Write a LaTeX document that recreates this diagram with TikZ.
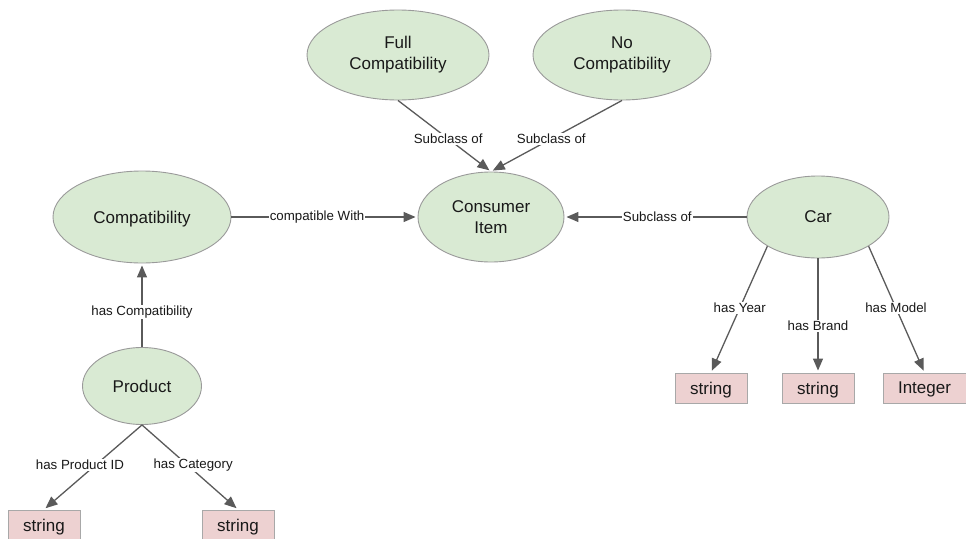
\documentclass[tikz,border=0pt]{standalone}
\usepackage{fontspec}
\setmainfont{Liberation Sans}
\usetikzlibrary{shapes.geometric,arrows.meta}
\definecolor{classfill}{HTML}{D9EAD3}
\definecolor{classline}{HTML}{9A9A9A}
\definecolor{typefill}{HTML}{EDD1D1}
\definecolor{typeline}{HTML}{A8A8A8}
\definecolor{edgecol}{HTML}{5A5A5A}
\tikzset{
  cls/.style={ellipse, draw=classline, fill=classfill, line width=0.9pt, inner sep=0pt,
    align=center, font=\fontsize{17}{21}\selectfont, text=black!90},
  oneline/.style={text depth=0pt},
  dtype/.style={rectangle, draw=typeline, fill=typefill, line width=0.9pt, inner sep=0pt,
    minimum width=72pt, minimum height=30pt, text depth=0pt,
    font=\fontsize{17}{21}\selectfont, text=black!90},
  rel/.style={draw=edgecol, line width=1.3pt, shorten >=2pt,
    -{Triangle[length=12pt,width=10pt]}},
  lbl/.style={fill=white, inner sep=1pt, font=\fontsize{13.3}{16}\selectfont, text=black!90}
}
\begin{document}
\begin{tikzpicture}[x=1pt, y=-1pt]
\useasboundingbox (0,0) rectangle (966,538);

% classes
\node[cls, minimum width=182pt, minimum height=90pt] (full) at (398,55) {Full\\Compatibility};
\node[cls, minimum width=178pt, minimum height=90pt] (none) at (622,55) {No\\Compatibility};
\node[cls, minimum width=146pt, minimum height=90pt] (item) at (491,217) {Consumer\\Item};
\node[cls, oneline, minimum width=178pt, minimum height=92pt] (compat) at (142,217) {Compatibility};
\node[cls, oneline, minimum width=142pt, minimum height=82pt] (car) at (818,217) {Car};
\node[cls, oneline, minimum width=119pt, minimum height=77pt] (product) at (142,386) {Product};

% datatypes
\node[dtype] (pid) at (44,525) {string};
\node[dtype] (pcat) at (238,525) {string};
\node[dtype] (year) at (711,388) {string};
\node[dtype] (brand) at (818,388) {string};
\node[dtype, minimum width=83pt] (model) at (924.5,388) {Integer};

% relations
\draw[rel] (full.south) -- node[lbl, pos=0.54] {Subclass of} (item.north);
\draw[rel] (none.south) -- node[lbl, pos=0.54] {Subclass of} (item.north);
\draw[rel] (compat.east) -- node[lbl, pos=0.46] {compatible With} (item.west);
\draw[rel] (car.west) -- node[lbl, pos=0.49] {Subclass of} (item.east);
\draw[rel] (product.north) -- node[lbl, pos=0.42] {has Compatibility} (compat.south);
\draw[rel] (product.south) -- node[lbl, pos=0.47, xshift=-16pt] {has Product ID} (pid.north);
\draw[rel] (product.south) -- node[lbl, pos=0.47, xshift=6pt] {has Category} (pcat.north);
\draw[rel] (car.210) -- node[lbl, pos=0.49] {has Year} (year.north);
\draw[rel] (car.south) -- node[lbl, pos=0.59] {has Brand} (brand.north);
\draw[rel] (car.-30) -- node[lbl, pos=0.49] {has Model} (model.north);
\end{tikzpicture}
\end{document}
